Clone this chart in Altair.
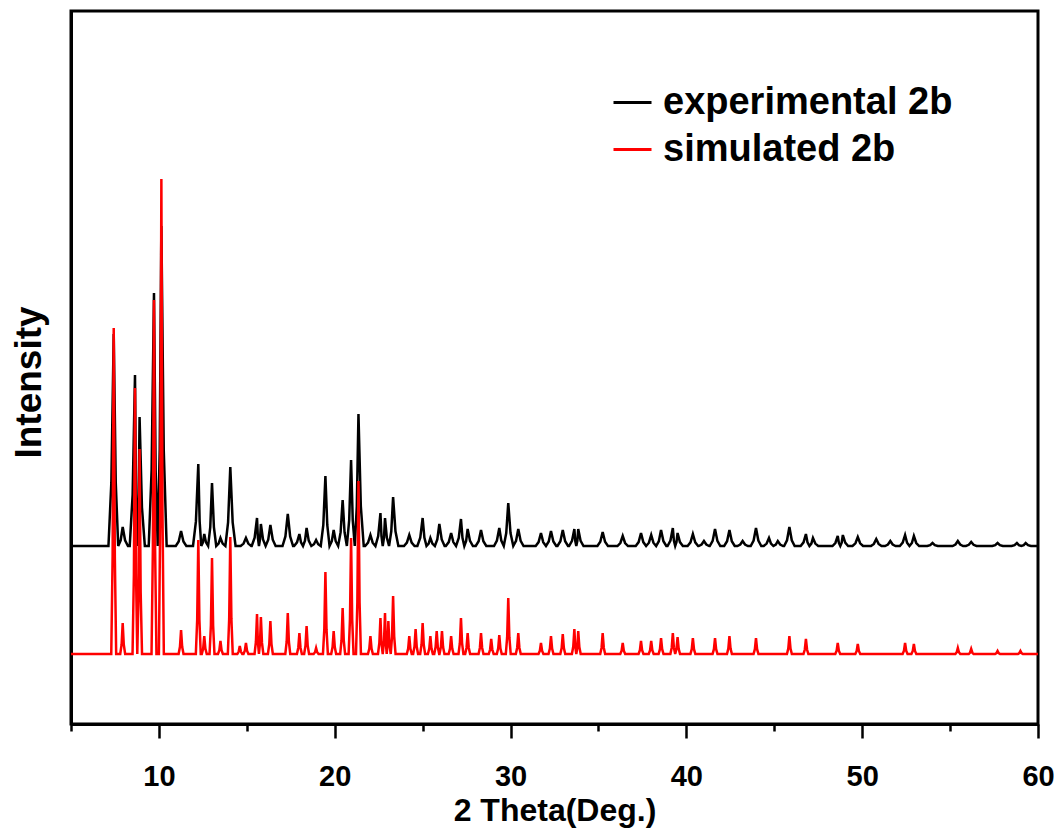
import altair as alt
import pandas as pd

# ---- data (2-theta in degrees, intensity in plot units) ----
EXP_BASE = 178
EXP_POS = [7.43, 7.94, 8.64, 8.90, 9.72, 10.14, 11.26, 12.24, 12.58, 13.02, 13.50, 14.06,
           14.95, 15.58, 15.80, 16.34, 17.33, 17.99, 18.40, 18.94, 19.47, 19.94, 20.45,
           20.93, 21.35, 22.03, 22.60, 22.86, 23.32, 24.24, 25.00, 25.44, 25.95, 26.62,
           27.18, 27.56, 28.32, 29.36, 29.87, 30.44, 31.73, 32.30, 32.97, 33.63, 33.85,
           35.24, 36.38, 37.42, 38.00, 38.56, 39.23, 39.50, 40.37, 41.00, 41.63, 42.45,
           43.20, 43.96, 44.70, 45.20, 45.86, 46.80, 47.20, 48.61, 48.90, 49.75, 50.80,
           51.60, 52.44, 52.94, 54.00, 55.44, 56.20, 57.70, 58.80, 59.30]
EXP_INT = [390, 197, 349, 307, 431, 498, 193, 260, 190, 241, 186, 257,
           186, 206, 200, 199, 210, 190, 196, 184, 248, 194, 224,
           264, 310, 189, 211, 206, 227, 189, 206, 186, 200, 191,
           205, 195, 194, 196, 221, 195, 191, 193, 194, 195, 195,
           192, 188, 191, 189, 194, 196, 191, 190, 183, 195, 194,
           183, 196, 186, 183, 197, 190, 186, 188, 189, 187, 185,
           183, 189, 188, 181, 183, 182, 181, 181, 181]

SIM_BASE = 70
SIM_POS = [7.43, 7.94, 8.64, 8.90, 9.72, 10.14, 11.26, 12.24, 12.58, 13.02, 13.50, 14.06,
           14.60, 14.95, 15.58, 15.80, 16.34, 17.33, 17.99, 18.40, 18.94, 19.47, 19.94,
           20.45, 20.93, 21.35, 22.03, 22.60, 22.86, 23.05, 23.32, 24.24, 24.60, 25.00,
           25.44, 25.80, 26.10, 26.62, 27.18, 27.56, 28.32, 28.90, 29.36, 29.87, 30.44,
           31.73, 32.30, 32.97, 33.63, 33.85, 35.24, 36.38, 37.42, 38.00, 38.56, 39.23,
           39.50, 40.37, 41.63, 42.45, 43.96, 45.86, 46.80, 48.61, 49.75, 52.44, 52.94,
           55.44, 56.20, 57.70, 59.00]
SIM_INT = [396, 101, 336, 275, 424, 545, 94, 184, 88, 166, 83, 187,
           78, 81, 110, 107, 103, 111, 91, 98, 76, 152, 93,
           116, 186, 243, 88, 106, 111, 103, 128, 88, 95, 101,
           88, 93, 93, 88, 106, 91, 91, 85, 89, 126, 91,
           81, 88, 90, 95, 93, 91, 81, 83, 83, 86, 91,
           87, 86, 86, 88, 86, 88, 85, 81, 80, 81, 80,
           76, 75, 73, 73]

SERIES = ["experimental 2b", "simulated 2b"]
COLORS = ["black", "red"]
X_MIN, X_MAX = 5, 60


def trace(pos, inten, base, half):
    xs, ys = [X_MIN], [base]
    for i, (p, h) in enumerate(zip(pos, inten)):
        left = p - half
        if i > 0:
            left = max(left, (pos[i - 1] + p) / 2)
        right = p + half
        if i < len(pos) - 1:
            right = min(right, (p + pos[i + 1]) / 2)
        sh = base + (h - base) * 0.3
        xs += [left, p - (p - left) * 0.45, p, p + (right - p) * 0.45, right]
        ys += [base, sh, h, sh, base]
    xs.append(X_MAX)
    ys.append(base)
    return xs, ys


ex, ey = trace(EXP_POS, EXP_INT, EXP_BASE, 0.30)
sx, sy = trace(SIM_POS, SIM_INT, SIM_BASE, 0.14)
df = pd.concat([
    pd.DataFrame({"x": ex, "y": ey, "series": SERIES[0], "i": range(len(ex))}),
    pd.DataFrame({"x": sx, "y": sy, "series": SERIES[1], "i": range(len(sx))}),
])

bold = "Liberation Sans, Arial, sans-serif"

chart = alt.Chart(df).mark_line(strokeWidth=2.5, interpolate="linear").encode(
    x=alt.X("x:Q", scale=alt.Scale(domain=[X_MIN, X_MAX], nice=False, zero=False),
            axis=alt.Axis(title="2 Theta(Deg.)", values=list(range(5, 61, 5)),
                          labelExpr="datum.value % 10 === 0 ? datum.label : ''",
                          tickSize={"condition": {"test": "datum.value % 10 === 0", "value": 14}, "value": 7},
                          tickWidth=2.5, tickColor="black", domainColor="black", domainWidth=3,
                          grid=False, labelFont=bold, labelFontSize=29, labelFontWeight="bold",
                          labelColor="black", labelPadding=24, labelFlush=False,
                          titleFont=bold, titleFontSize=32, titleFontWeight="bold",
                          titleColor="black", titleY=86, titleBaseline="middle")),
    y=alt.Y("y:Q", scale=alt.Scale(domain=[0, 713], nice=False),
            axis=alt.Axis(title="Intensity", ticks=False, labels=False, grid=False,
                          domainColor="black", domainWidth=3,
                          titleFont=bold, titleFontSize=37, titleFontWeight="bold",
                          titleColor="black", titleAngle=-90, titleX=-42, titleY=371,
                          titleBaseline="middle", titleAlign="center")),
    color=alt.Color("series:N", scale=alt.Scale(domain=SERIES, range=COLORS),
                    legend=alt.Legend(title=None, orient="none", legendX=541, legendY=71,
                                      symbolType="stroke", symbolSize=1444, symbolStrokeWidth=3,
                                      labelFont=bold, labelFontSize=38, labelFontWeight="bold",
                                      labelColor="black", labelOffset=10, rowPadding=7,
                                      labelLimit=500)),
    order="i:Q",
).properties(
    width=967, height=713,
    autosize=alt.AutoSizeParams(type="none"),
    padding={"left": 63, "top": 3, "right": 16, "bottom": 104},
).configure_view(stroke="black", strokeWidth=3)

chart.save("out.html", embed_options={"renderer": "svg", "actions": False})
